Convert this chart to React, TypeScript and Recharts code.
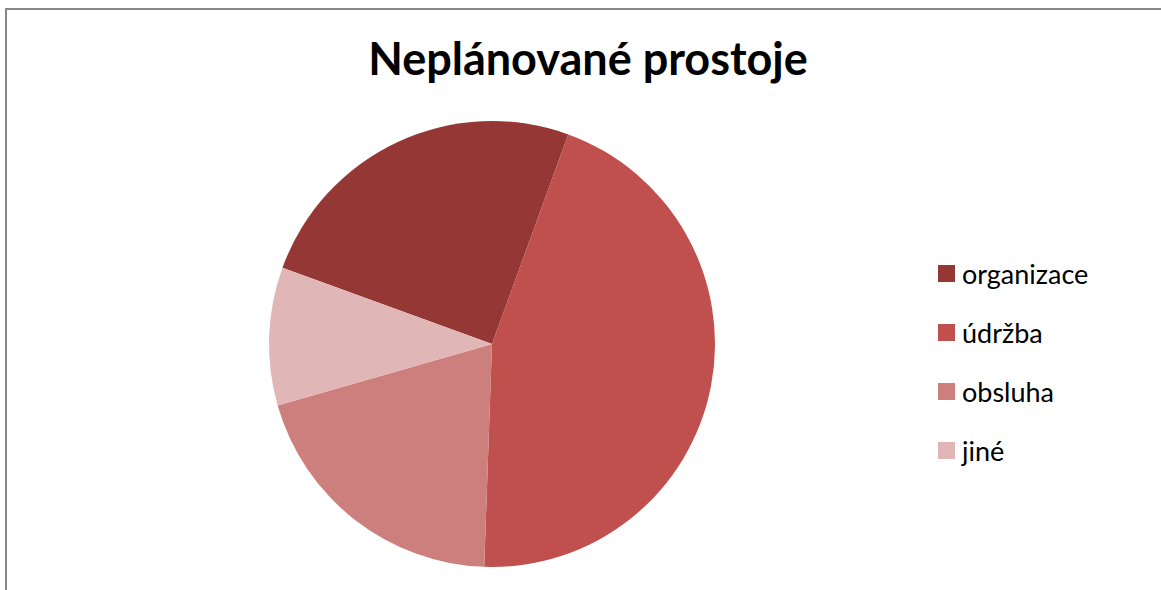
import React from 'react';
import { PieChart, Pie, Cell } from 'recharts';

const categories = ['organizace', 'údržba', 'obsluha', 'jiné'];
const values = [25, 45, 20, 10];
const colors = ['#953735', '#C0504D', '#CD7F7E', '#E0B7B6'];
const title = 'Neplánované prostoje';

const data = categories.map((name, i) => ({ name, value: values[i] }));

const FONT = 'Lato, Carlito, "Open Sans", sans-serif';

export default function App() {
  return (
    <div style={{ position: 'absolute', left: 0, top: 0, width: 1161, height: 590, overflow: 'hidden', background: '#fff' }}>
      <div
        style={{
          position: 'absolute',
          left: 5,
          top: 8,
          width: 1170,
          height: 600,
          borderLeft: '2px solid #878787',
          borderTop: '2px solid #878787',
          boxSizing: 'border-box',
        }}
      />
      <div
        style={{
          position: 'absolute',
          left: 0,
          width: 1176,
          top: 28,
          textAlign: 'center',
          fontFamily: FONT,
          fontWeight: 700,
          fontSize: 45,
          lineHeight: '60px',
          color: '#000',
        }}
      >
        {title}
      </div>
      <div style={{ position: 'absolute', left: 0, top: 0 }}>
        <PieChart width={1161} height={590} margin={{ top: 0, right: 0, bottom: 0, left: 0 }}>
          <Pie
            data={data}
            dataKey="value"
            nameKey="name"
            cx={492}
            cy={344}
            outerRadius={223}
            startAngle={160}
            endAngle={-200}
            stroke="none"
            isAnimationActive={false}
          >
            {data.map((d, i) => (
              <Cell key={d.name} fill={colors[i]} />
            ))}
          </Pie>
        </PieChart>
      </div>
      {categories.map((c, i) => (
        <div
          key={c}
          style={{
            position: 'absolute',
            left: 938,
            top: 273.5 + i * 59 - 15,
            height: 30,
            display: 'flex',
            alignItems: 'center',
            fontFamily: FONT,
            fontSize: 27,
            color: '#000',
            whiteSpace: 'nowrap',
          }}
        >
          <span style={{ display: 'inline-block', width: 17, height: 17, background: colors[i], marginRight: 7 }} />
          <span>{c}</span>
        </div>
      ))}
    </div>
  );
}
